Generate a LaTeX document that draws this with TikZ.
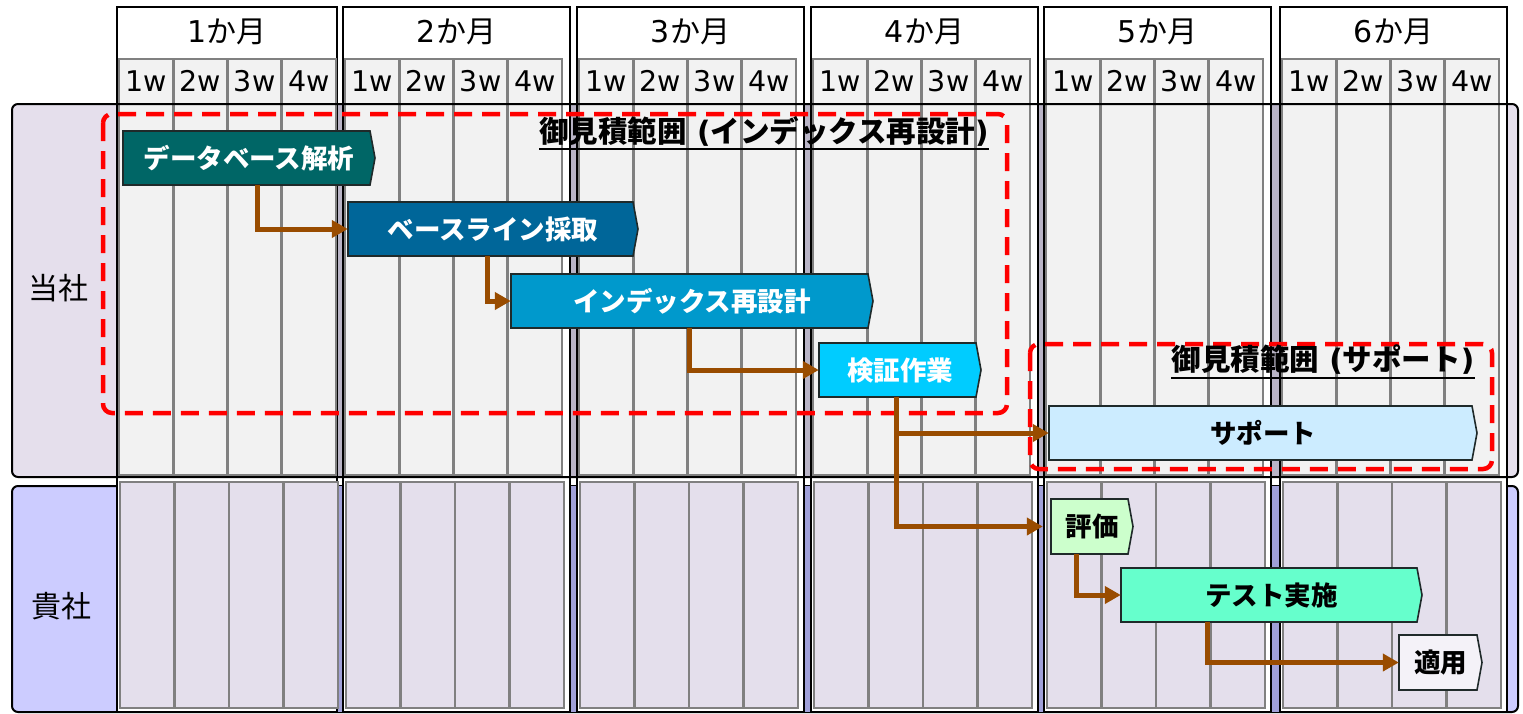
\documentclass[tikz,border=0pt]{standalone}
\usepackage{fontspec}
\setmainfont{DejaVu Sans}
\newfontfamily\jp{Noto Sans CJK JP}
\usetikzlibrary{arrows.meta,calc}
\definecolor{laneA}{HTML}{E5DFEC}
\definecolor{laneB}{HTML}{CCCCFF}
\definecolor{cellA}{HTML}{F2F2F2}
\definecolor{cellB}{HTML}{E4DFEC}
\definecolor{gapA}{HTML}{B9B4C6}
\definecolor{gapB}{HTML}{A0A0D8}
\definecolor{gridgray}{HTML}{808080}
\definecolor{connbrown}{HTML}{994C00}
\definecolor{taskline}{HTML}{1F2A2A}
\definecolor{tA}{HTML}{006666}
\definecolor{tB}{HTML}{006699}
\definecolor{tC}{HTML}{0099CC}
\definecolor{tD}{HTML}{00CCFF}
\definecolor{tE}{HTML}{CCECFF}
\definecolor{tF}{HTML}{CCFFCC}
\definecolor{tG}{HTML}{66FFCC}
\definecolor{tH}{HTML}{F4F2F8}
% name, left, top, tip, bottom, fill, text colour, text
\newcommand\taskbar[8]{%
  \filldraw[fill=#6, draw=taskline, line width=1.6pt, line join=miter]
    (#2,#3) -- (#4-5,#3) -- (#4,{(#3+#5)/2}) -- (#4-5,#5) -- (#2,#5) -- cycle;
  \node[tasktext, text=#7, minimum width={(#4-#2)*1pt}, minimum height={(#5-#3)*1pt}]
    (#1) at ({(#2+#4)/2},{(#3+#5)/2}) {\jp #8};
}
\begin{document}
\begin{tikzpicture}[x=1pt,y=-1pt,
  monthbox/.style={draw=black, fill=white, line width=2.5pt},
  weekA/.style={draw=gridgray, fill=cellA, line width=2.6pt},
  weekB/.style={draw=gridgray, fill=cellB, line width=2.6pt},
  monthtext/.style={inner sep=0pt, font=\fontsize{30}{32}\selectfont},
  weektext/.style={inner sep=0pt, font=\fontsize{28.5}{30}\selectfont},
  lanetext/.style={inner sep=0pt, font=\fontsize{30}{32}\selectfont},
  tasktext/.style={inner sep=0pt, font=\bfseries\fontsize{26.5}{30}\selectfont},
  scopelabel/.style={inner sep=0pt, font=\bfseries\fontsize{29.5}{32}\selectfont},
  scopebox/.style={draw=red, line width=4.5pt, dash pattern=on 18pt off 10pt, rounded corners=9pt},
  connector/.style={draw=connbrown, line width=5pt, -{Triangle[length=16pt,width=17pt]}},
]
\useasboundingbox (0,0) rectangle (1523,713);
% lanes
\fill[laneA, rounded corners=6pt] (12,104) rectangle (1518,477);
\filldraw[fill=laneB, draw=black, line width=2pt, rounded corners=6pt] (12,486) rectangle (1518,712);
% gaps between months
\foreach \ga/\gb in {337/343, 570/577, 804/811, 1038/1044, 1271/1280} {
  \fill[gapA] (\ga,104) rectangle (\gb,477);
  \fill[gapB] (\ga,486) rectangle (\gb,712);
}
% months and weeks
\foreach \ml/\mr/\mm in {117/337/1, 343/570/2, 577/804/3, 811/1038/4, 1044/1271/5, 1280/1507/6} {
  \draw[monthbox] (\ml,7) rectangle (\mr,712);
  \node[monthtext] (mon\mm) at ({(\ml+\mr)/2},32) {\mm\jp か月};
  \foreach \i in {0,...,3} {
    \draw[weekA] ({\ml+2+54.25*\i},59) rectangle ({\ml+2+54.25*(\i+1)},475);
    \draw[weekB] ({\ml+3+54.5*\i},482) rectangle ({\ml+3+54.5*(\i+1)},708);
    \pgfmathtruncatemacro\wkn{\i+1}
    \node[weektext] (wk\mm\wkn) at ({\ml+2+54.25*(\i+0.5)},81) {\wkn w};
  }
}
% lane 1 border on top
\draw[black, line width=2pt, rounded corners=6pt] (12,104) rectangle (1518,477);
% lane labels
\node[lanetext] (ours) at (58,288) {\jp 当社};
\node[lanetext] (theirs) at (61,606) {\jp 貴社};
% estimate scopes
\draw[scopebox] (103,114) rectangle (1007,413);
\draw[scopebox] (1030,344) rectangle (1492,469);
\node[scopelabel] (scope1) at (764,131) {{\jp 御見積範囲} ({\jp インデックス再設計})};
\draw[line width=2pt] ([yshift=-3pt]scope1.south west) -- ([yshift=-3pt]scope1.south east);
\node[scopelabel] (scope2) at (1323,360) {{\jp 御見積範囲} ({\jp サポート})};
\draw[line width=2pt] ([yshift=-3pt]scope2.south west) -- ([yshift=-3pt]scope2.south east);
% tasks
\taskbar{db}{123}{131}{375}{185}{tA}{white}{データベース解析}
\taskbar{bl}{348}{202}{638}{256}{tB}{white}{ベースライン採取}
\taskbar{ix}{511}{274}{873}{328}{tC}{white}{インデックス再設計}
\taskbar{vf}{819}{343}{981}{397}{tD}{white}{検証作業}
\taskbar{sp}{1049}{406}{1477}{460}{tE}{black}{サポート}
\taskbar{ev}{1051}{499}{1133}{554}{tF}{black}{評価}
\taskbar{ts}{1121}{568}{1422}{622}{tG}{black}{テスト実施}
\taskbar{ap}{1399}{635}{1482}{690}{tH}{black}{適用}
% connectors
\draw[connector] ($(db.south west)+(135,0)$) |- (bl.west);
\draw[connector] ($(bl.south west)+(140,0)$) |- (ix.west);
\draw[connector] ($(ix.south west)+(179,0)$) |- (vf.west);
\draw[connector] ($(vf.south west)+(78,0)$) |- (sp.west);
\draw[connector] ($(vf.south west)+(78,0)$) |- ([xshift=-8pt]ev.west);
\draw[connector] ($(ev.south west)+(26,0)$) |- (ts.west);
\draw[connector] ($(ts.south west)+(87,0)$) |- (ap.west);
\end{tikzpicture}
\end{document}
